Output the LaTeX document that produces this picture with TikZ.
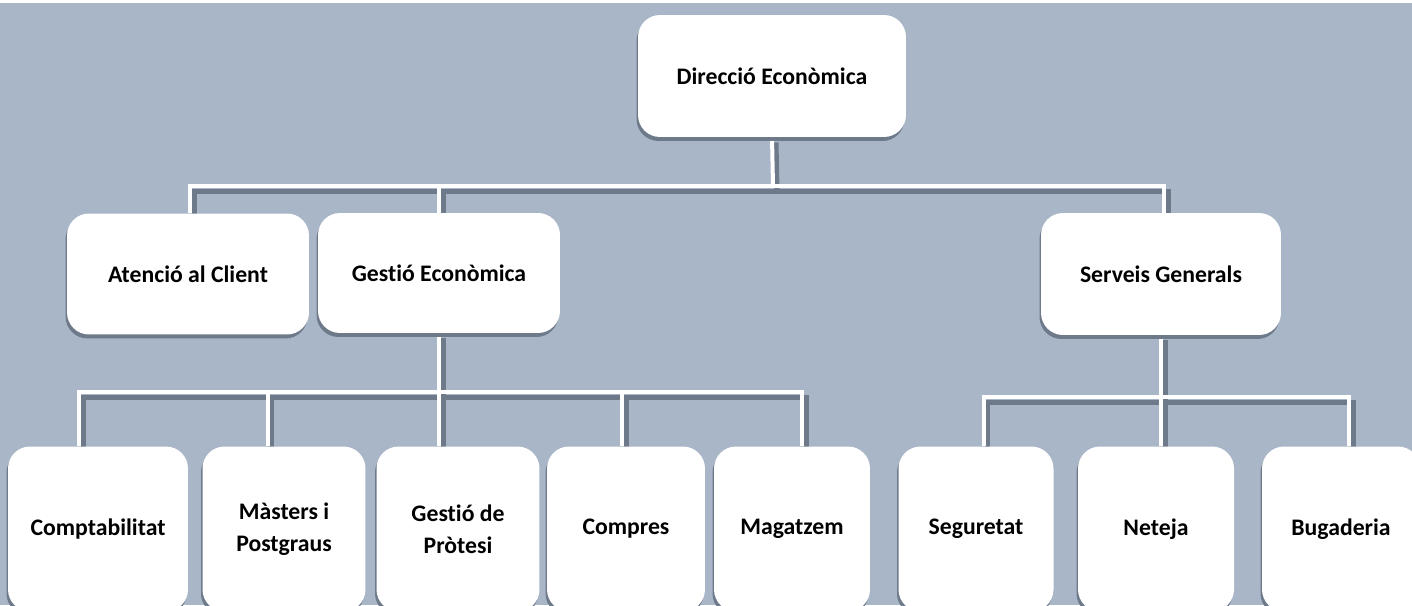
\documentclass[tikz,border=0pt]{standalone}
\usepackage{fontspec}
\setmainfont[RawFeature={-liga;-clig;-dlig}]{Carlito}
\usetikzlibrary{positioning, shadows}

\definecolor{bgblue}{HTML}{A9B6C8}
\definecolor{shadowgray}{HTML}{6E7A8A}

\pgfdeclarelayer{bg}
\pgfdeclarelayer{wires}
\pgfsetlayers{bg,wires,main}

\tikzset{
    unit/.style={fill=white, rounded corners=0.44cm, align=center,
        font=\bfseries\fontsize{13.5}{18}\selectfont, inner sep=2pt,
        drop shadow={shadow xshift=-0.03cm, shadow yshift=-0.08cm,
            fill=shadowgray, opacity=1}},
    topunit/.style={unit, minimum width=4.84cm, minimum height=2.42cm},
    lowunit/.style={unit, minimum height=3.3cm},
    wire/.style={draw=white, line width=0.08cm}
}

% all connectors, drawn once as shadow and once in white
\newcommand{\wires}{
    \draw [wire] (dir.south) -- (b1);
    \draw [wire] ([xshift=0.04cm]aten.north) |- (b1) -| ([xshift=0.06cm]serv.north);
    \draw [wire] (gest.north) -- (gest.north |- b1);
    \draw [wire] (gest.south) -- (b2);
    \draw [wire] ([xshift=-0.38cm]compt.north) |- (b2) -| ([xshift=0.2cm]magatzem.north);
    \draw [wire] ([xshift=-0.33cm]masters.north) -- ([xshift=-0.33cm]masters.north |- b2);
    \draw [wire] (b2) -- (b2 |- protesi.north);
    \draw [wire] ([xshift=-0.08cm]compres.north) -- ([xshift=-0.08cm]compres.north |- b2);
    \draw [wire] (serv.south) -- (b3);
    \draw [wire] ([xshift=0.15cm]seguretat.north) |- (b3) -| ([xshift=0.16cm]bugaderia.north);
    \draw [wire] (b3) -- (b3 |- neteja.north);
}

\begin{document}
\begin{tikzpicture}[x=0.02cm, y=-0.02cm]
    \useasboundingbox (0,0) rectangle (1412,605);

    \node [unit, minimum width=5.36cm, minimum height=2.44cm] (dir) at (772,76) {Direcció Econòmica};

    \node [topunit] (aten) at (188,274) {Atenció al Client};
    \node [topunit, minimum height=2.4cm] (gest) at (439,273) {Gest\kern0pt ió Econòmica};
    \node [topunit, minimum width=4.8cm, minimum height=2.44cm] (serv) at (1161,274) {Serveis Generals};

    \node [lowunit, minimum width=3.6cm] (compt) at (98,529) {Comptabilitat};
    \node [lowunit, minimum width=3.26cm] (masters) at (284,529) {Màsters i\\Postgraus};
    \node [lowunit, minimum width=3.26cm] (protesi) at (458,529) {Gest\kern0pt ió de\\Pròtesi};
    \node [lowunit, minimum width=3.16cm] (compres) at (626,529) {Compres};
    \node [lowunit, minimum width=3.12cm] (magatzem) at (792,529) {Magatzem};
    \node [lowunit, minimum width=3.1cm] (seguretat) at (976,529) {Seguretat};
    \node [lowunit, minimum width=3.12cm] (neteja) at (1156,529) {Neteja};
    \node [lowunit, minimum width=3.16cm] (bugaderia) at (1341,529) {Bugaderia};

    \coordinate (b1) at (773,186);
    \coordinate (b2) at (439,392);
    \coordinate (b3) at (1161,397);

    \begin{pgfonlayer}{bg}
        \fill [bgblue] (0,0) rectangle (1412,605);
        \fill [white] (0,0) rectangle (1412,3);
    \end{pgfonlayer}

    \begin{pgfonlayer}{wires}
        \begin{scope}[transform canvas={xshift=0.08cm, yshift=-0.1cm},
                wire/.style={draw=shadowgray, line width=0.1cm}]
            \wires
        \end{scope}
        \wires
    \end{pgfonlayer}
\end{tikzpicture}
\end{document}
